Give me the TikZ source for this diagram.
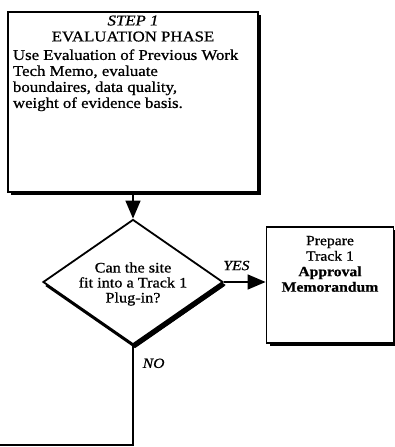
\documentclass[tikz,border=0pt]{standalone}
\usepackage{fontspec}
\setmainfont{Liberation Serif}[FakeStretch=1.12, FakeBold=0.8]
\usetikzlibrary{arrows.meta}
\usetikzlibrary{shapes.geometric}
\usetikzlibrary{shadows}

\begin{document}
\begin{tikzpicture}[x=1pt, y=-1pt,
    box/.style={draw=black, line width=1.8pt, fill=white, inner sep=0pt,
      drop shadow={shadow xshift=3pt, shadow yshift=-3pt, opacity=1, fill=black}},
    flow/.style={line width=1.5pt, -{Triangle[length=18pt, width=15pt]}},
    lbl/.style={font=\fontsize{14}{14}\selectfont\itshape, inner sep=0pt}]
  \useasboundingbox (0,0) rectangle (394,447);
  \node[box, minimum width=250pt, minimum height=180pt] (step) at (133,102)
    {\parbox[c][180pt][t]{240pt}{\fontsize{15}{16}\selectfont
      \vspace*{3.5pt}\centering\textit{STEP 1}\par
      EVALUATION PHASE\par\vspace{2.5pt}
      \raggedright Use Evaluation of Previous Work\\ Tech Memo, evaluate\\
      boundaires, data quality,\\ weight of evidence basis.\par}};
  \node[box, diamond, minimum width=180pt, minimum height=125pt,
    drop shadow={shadow xshift=2pt, shadow yshift=-4pt, opacity=1, fill=black},
    label={[align=center, yshift=-2pt, font=\fontsize{14.5}{15}\selectfont]center:Can the site\\fit into a Track 1\\Plug-in?}] (fit) at (133,282) {};
  \node[box, minimum width=127pt, minimum height=116pt] (track) at (330,285)
    {\parbox[c][116pt][t]{120pt}{\fontsize{14}{15.5}\selectfont
      \vspace*{9pt}\centering Prepare\\ Track 1\\ \textbf{Approval}\\ \textbf{Memorandum}\par}};
  \coordinate (corner) at (133,445);
  \coordinate (noend) at (0,445);
  \path [flow] (step) edge (fit);
  \draw [flow] (fit.east) -- node[lbl, pos=0.3, above=11pt] {YES} (fit.east -| track.west);
  \draw [line width=1.5pt] (fit.south) -- node[lbl, pos=0.18, right=9pt] {NO} (corner) -- (noend);
\end{tikzpicture}
\end{document}
